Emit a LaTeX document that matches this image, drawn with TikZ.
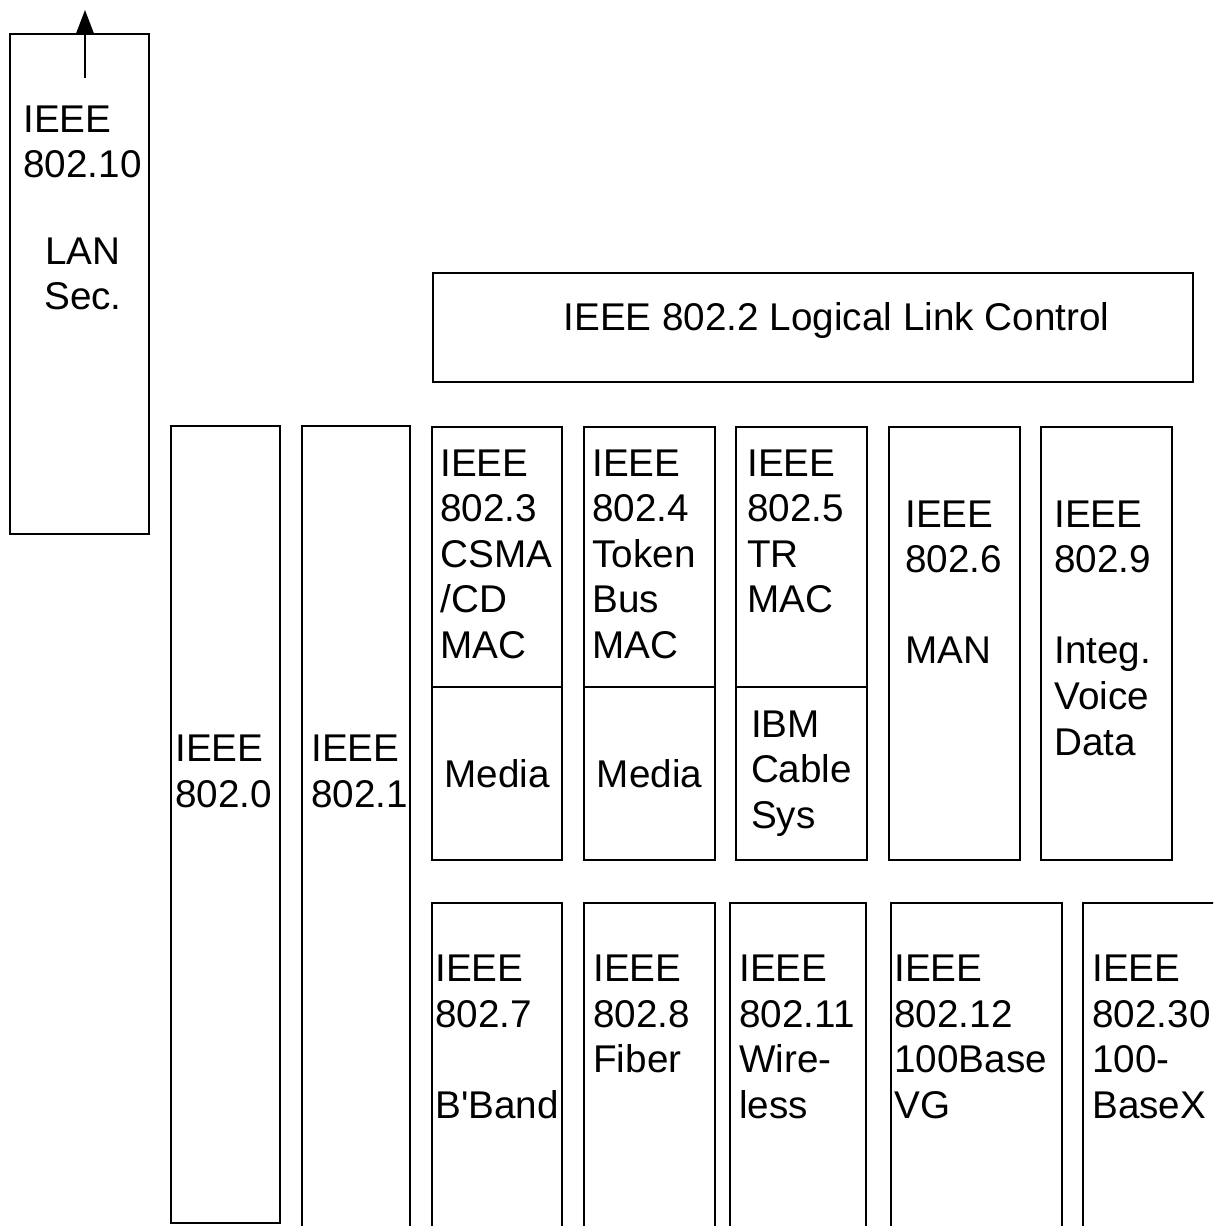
\documentclass[tikz,border=0pt]{standalone}
\usepackage{fontspec}
\setmainfont{Liberation Sans}
\usetikzlibrary{positioning,arrows.meta}
\begin{document}
\begin{tikzpicture}[
        font=\fontsize{22pt}{25.9pt}\selectfont,
        box/.style={
            draw,
            line width=1.2pt,
            anchor=north west,
            inner sep=0pt,
            outer sep=0pt
        },
        txt/.style={anchor=north west, inner sep=0pt, align=left},
        arrow/.style={-{Triangle[length=0.46cm,width=0.34cm]}, line width=1.2pt}
    ]
    \useasboundingbox (0,0) rectangle (24.26,24.52);
    \clip (0,0) rectangle (24.26,24.52);

    % =========================
    % LAN security
    % =========================
    \node[box, minimum width=2.78cm, minimum height=10cm] (sec) at (0.20,23.84) {};
    \node[txt] (sectxt) at ([xshift=0.26cm,yshift=-1.43cm]sec.north west) {IEEE\\802.10};
    \node[txt, anchor=north, align=center] (secname) at ([xshift=1.46cm,yshift=-4.07cm]sec.north west) {LAN\\Sec.};

    \coordinate (secfoot) at (1.70,22.96);
    \coordinate (sectop)  at (1.70,24.32);
    \draw[arrow] (secfoot) -- (sectop);

    % =========================
    % Logical link control
    % =========================
    \node[box, minimum width=15.2cm, minimum height=2.18cm] (llc) at (8.66,19.06) {};
    \node[inner sep=0pt, anchor=base] (llctxt) at ([xshift=0.47cm,yshift=-1.16cm]llc.north) {IEEE 802.2 Logical Link Control};

    % =========================
    % Overview and management
    % =========================
    \node[box, minimum width=2.18cm, minimum height=15.94cm] (ov) at (3.42,16.00) {};
    \node[txt] (ovtxt) at ([xshift=0.08cm,yshift=-6.18cm]ov.north west) {IEEE\\802.0};

    \node[box, minimum width=2.16cm, minimum height=17cm] (mgmt) at (6.04,16.00) {};
    \node[txt] (mgmttxt) at ([xshift=0.18cm,yshift=-6.18cm]mgmt.north west) {IEEE\\802.1};

    % =========================
    % MAC layers
    % =========================
    \node[box, minimum width=2.60cm, minimum height=5.20cm] (csma) at (8.64,15.98) {};
    \node[box, below=0pt of csma, minimum width=2.60cm, minimum height=3.46cm] (csmamedia) {Media};
    \node[txt] (csmatxt) at ([xshift=0.16cm,yshift=-0.45cm]csma.north west) {IEEE\\802.3\\CSMA\\/CD\\MAC};

    \node[box, minimum width=2.62cm, minimum height=5.20cm] (tbus) at (11.68,15.98) {};
    \node[box, below=0pt of tbus, minimum width=2.62cm, minimum height=3.46cm] (tbusmedia) {Media};
    \node[txt] (tbustxt) at ([xshift=0.16cm,yshift=-0.45cm]tbus.north west) {IEEE\\802.4\\Token\\Bus\\MAC};

    \node[box, minimum width=2.62cm, minimum height=5.20cm] (tring) at (14.72,15.98) {};
    \node[box, below=0pt of tring, minimum width=2.62cm, minimum height=3.46cm, align=left] (tringmedia) {IBM\\Cable\\Sys};
    \node[txt] (tringtxt) at ([xshift=0.22cm,yshift=-0.45cm]tring.north west) {IEEE\\802.5\\TR\\MAC};

    \node[box, minimum width=2.62cm, minimum height=8.66cm] (man) at (17.78,15.98) {};
    \node[txt] (mantxt) at ([xshift=0.32cm,yshift=-1.47cm]man.north west) {IEEE\\802.6\\[25.9pt]MAN};

    \node[box, minimum width=2.62cm, minimum height=8.66cm] (ivd) at (20.82,15.98) {};
    \node[txt] (ivdtxt) at ([xshift=0.26cm,yshift=-1.47cm]ivd.north west) {IEEE\\802.9\\[25.9pt]Integ.\\Voice\\Data};

    % =========================
    % Advisory groups and others
    % =========================
    \node[box, minimum width=2.60cm, minimum height=7.5cm] (bband) at (8.64,6.46) {};
    \node[txt] (bbandtxt) at ([xshift=0.06cm,yshift=-1.04cm]bband.north west) {IEEE\\802.7\\[25.9pt]B\textquotesingle Band};

    \node[box, minimum width=2.62cm, minimum height=7.5cm] (fiber) at (11.68,6.46) {};
    \node[txt] (fibertxt) at ([xshift=0.18cm,yshift=-1.04cm]fiber.north west) {IEEE\\802.8\\Fiber};

    \node[box, minimum width=2.72cm, minimum height=7.5cm] (wlan) at (14.60,6.46) {};
    \node[txt] (wlantxt) at ([xshift=0.18cm,yshift=-1.04cm]wlan.north west) {IEEE\\802.11\\Wire-\\less};

    \node[box, minimum width=3.42cm, minimum height=7.5cm] (vg) at (17.82,6.46) {};
    \node[txt] (vgtxt) at ([xshift=0.06cm,yshift=-1.04cm]vg.north west) {IEEE\\802.12\\100Base\\VG};

    \node[box, minimum width=3.0cm, minimum height=7.5cm] (fast) at (21.66,6.46) {};
    \node[txt] (fasttxt) at ([xshift=0.18cm,yshift=-1.04cm]fast.north west) {IEEE\\802.30\\100-\\BaseX};

    \end{tikzpicture}
\end{document}
